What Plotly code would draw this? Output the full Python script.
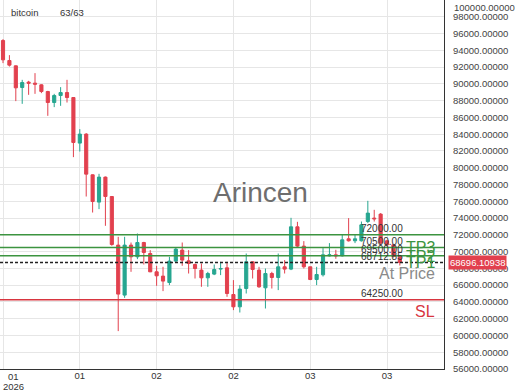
import pandas as pd
import plotly.graph_objects as go

# ---- data -------------------------------------------------------------
start = pd.Timestamp("2026-01-01 00:00")
opens = [95166, 92782, 92150, 89563, 90206, 90087, 89885, 89086, 87774, 88609,
         88966, 88370, 82934, 84007, 79154, 75899, 78880, 76567, 70772, 64810,
         70772, 69377, 71082, 69770, 67588, 67076, 66313, 68864, 70176, 68900,
         68459, 67791, 66873, 67314, 67910, 68065, 64882, 63415, 65597, 68781,
         67791, 65681, 67386, 66909, 68185, 67910, 72954, 70653, 68185, 66670,
         67231, 69496, 69615, 69496, 71523, 71285, 71285, 73586, 73991, 74468,
         71285, 70808, 69413]
highs = [95333, 93426, 92200, 90481, 90361, 91279, 89950, 89169, 88812, 89610,
         90481, 88420, 84603, 84126, 79200, 79273, 78951, 76600, 71762, 71762,
         71082, 72155, 71165, 70176, 68304, 68185, 69377, 70450, 71082, 70176,
         68578, 68578, 67588, 68459, 68781, 68781, 66599, 66003, 69770, 68800,
         68185, 67982, 67588, 69770, 68984, 74027, 73550, 71249, 68200, 68185,
         70414, 71010, 70212, 72083, 73991, 72000, 73586, 76054, 74981, 74587,
         71400, 70900, 69500]
lows = [92472, 92066, 87941, 87619, 88692, 88812, 88895, 86188, 87226, 87381,
        87774, 81264, 81932, 76567, 74659, 75064, 73073, 70700, 60518, 64488,
        67588, 69103, 68459, 67550, 65919, 65287, 66003, 68697, 68304, 67386,
        66790, 65800, 65800, 67195, 67195, 64608, 63022, 62736, 65001, 66790,
        65680, 63213, 65597, 65407, 67386, 67791, 70450, 67982, 66599, 66003,
        67028, 69413, 69139, 69413, 71200, 71010, 71200, 73395, 73586, 70808,
        70600, 69300, 68340]
closes = [92865, 92234, 89527, 90159, 90087, 89968, 89086, 87774, 88609, 88966,
          88370, 83005, 84007, 79237, 75970, 78880, 76567, 70843, 64930, 70772,
          69377, 71082, 69890, 67588, 67111, 66480, 68864, 70295, 68984, 68578,
          67982, 66873, 67386, 67863, 67982, 65001, 63415, 65526, 68781, 67863,
          65800, 67386, 66909, 68185, 67910, 72954, 70653, 68185, 66670, 67267,
          69615, 69615, 69496, 71404, 71285, 71523, 73192, 74587, 73908, 71010,
          70808, 69413, 68696.10938]
times = [start + pd.Timedelta(hours=i) for i in range(len(opens))]

tp_levels = [72000.00, 70500.00, 69500.00]
at_price = 68712.85
sl_level = 64250.00
last_price = 68696.10938

y_ticks = list(range(56000, 100000, 2000))
x_tick_hours = [0, 12, 24, 36, 48, 60]
x_tick_text = ["", "01", "02", "02", "03", "03"]

# ---- style -------------------------------------------------------------
RED = "#e2404e"
GREEN = "#26a690"
LINE_GREEN = "#3c9440"
FONT = "Liberation Sans, Arial, sans-serif"

fig = go.Figure()
fig.add_trace(go.Candlestick(
    x=times, open=opens, high=highs, low=lows, close=closes,
    increasing=dict(line=dict(color=GREEN, width=1), fillcolor=GREEN),
    decreasing=dict(line=dict(color=RED, width=1), fillcolor=RED),
    whiskerwidth=0, showlegend=False, hoverinfo="skip",
))

shapes = []
for lv in tp_levels:
    shapes.append(dict(type="line", xref="paper", x0=0, x1=1, yref="y", y0=lv, y1=lv,
                       line=dict(color=LINE_GREEN, width=1.5)))
shapes.append(dict(type="line", xref="paper", x0=0, x1=1, yref="y", y0=sl_level, y1=sl_level,
                   line=dict(color="#d8353f", width=1.5)))
shapes.append(dict(type="line", xref="paper", x0=0, x1=1, yref="y", y0=at_price, y1=at_price,
                   line=dict(color="#222222", width=1.5, dash="3px,2px")))

ann = []
for lv in tp_levels + [at_price, sl_level]:
    ann.append(dict(xref="paper", x=0.8086, xanchor="left", yref="y", y=lv, yanchor="middle",
                    yshift=6, text=f"{lv:.2f}", showarrow=False,
                    font=dict(family=FONT, size=10, color="#333333")))
side = [("TP3", tp_levels[0], -12.5, LINE_GREEN), ("TP2", tp_levels[1], -9, LINE_GREEN),
        ("TP1", tp_levels[2], -6.5, LINE_GREEN), ("At Price", at_price, -11.5, "#8a8a8a"),
        ("SL", sl_level, -12, "#d8353f")]
for txt, lv, ys, col in side:
    ann.append(dict(xref="paper", x=0.985, xanchor="right", yref="y", y=lv, yanchor="middle",
                    yshift=ys, text=txt, showarrow=False,
                    font=dict(family=FONT, size=16, color=col)))
ann.append(dict(xref="paper", x=1, xanchor="left", xshift=4, yref="y", y=last_price,
                yanchor="middle", text=f"{last_price:.5f}", showarrow=False,
                bgcolor=RED, borderpad=1, font=dict(family=FONT, size=9.5, color="white")))
ann.append(dict(xref="paper", x=1, xanchor="left", xshift=8, yref="paper", y=1, yanchor="top",
                yshift=0, text="100000.00000", showarrow=False,
                font=dict(family=FONT, size=9.5, color="#444444")))
ann.append(dict(xref="paper", x=0.586, yref="paper", y=0.477, text="Arincen", showarrow=False,
                font=dict(family=FONT, size=28, color="#6e6e6e")))
ann.append(dict(xref="paper", x=0.021, xanchor="left", yref="paper", y=0.9656, yanchor="middle",
                text="bitcoin", showarrow=False, font=dict(family=FONT, size=9.5, color="#333333")))
ann.append(dict(xref="paper", x=0.1306, xanchor="left", yref="paper", y=0.9656, yanchor="middle",
                text="63/63", showarrow=False, font=dict(family=FONT, size=9.5, color="#333333")))
ann.append(dict(xref="paper", x=0.0305, xanchor="center", yref="paper", y=0, yanchor="middle",
                yshift=-7, text="01", showarrow=False,
                font=dict(family=FONT, size=9.5, color="#333333")))
ann.append(dict(xref="paper", x=0.0315, xanchor="center", yref="paper", y=0, yanchor="middle",
                yshift=-17, text="2026", showarrow=False,
                font=dict(family=FONT, size=9.5, color="#333333")))

x0 = start - pd.Timedelta(hours=0.47)
x1 = start + pd.Timedelta(hours=68.9)

fig.update_layout(
    width=520, height=390,
    margin=dict(l=0, r=76, t=0, b=21),
    paper_bgcolor="white", plot_bgcolor="white",
    shapes=shapes, annotations=ann,
    font=dict(family=FONT, size=9.5, color="#333333"),
    xaxis=dict(
        range=[x0, x1], rangeslider=dict(visible=False),
        tickvals=[start + pd.Timedelta(hours=h) for h in x_tick_hours], ticktext=x_tick_text,
        showgrid=True, gridcolor="#e6e6e6", gridwidth=1, showline=True, linecolor="#333333",
        linewidth=1, ticks="", zeroline=False, tickfont=dict(size=9.5, color="#333333"),
        ticklabelstandoff=-2,
    ),
    yaxis=dict(
        side="right", range=[56000, 100000], tickvals=y_ticks,
        ticktext=[f"{v:.5f}" for v in y_ticks],
        showgrid=True, gridcolor="#e6e6e6", gridwidth=1, showline=True, linecolor="#333333",
        linewidth=1, ticks="", zeroline=False, ticklabelstandoff=6,
        tickfont=dict(size=9.5, color="#444444"),
    ),
)

fig.write_html("out.html", config={"displayModeBar": False},
               post_script="document.body.style.margin='0';")
